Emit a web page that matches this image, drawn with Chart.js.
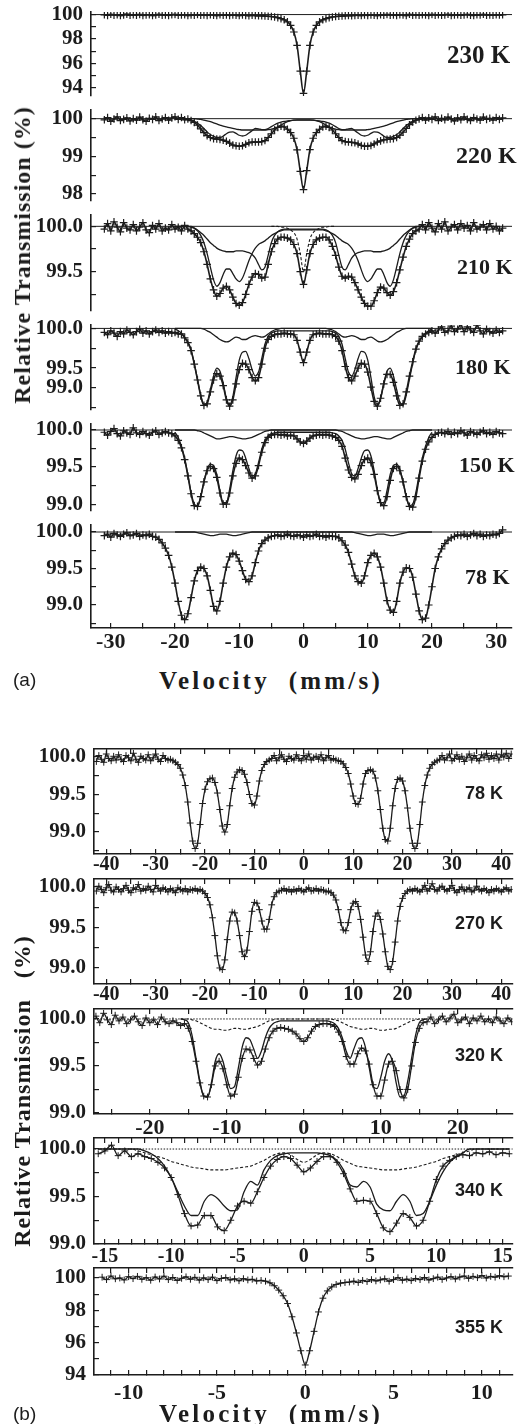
<!DOCTYPE html>
<html>
<head>
<meta charset="utf-8">
<script src="https://cdn.jsdelivr.net/npm/chart.js@4.4.0/dist/chart.umd.min.js"></script>
<style>
  html, body { margin: 0; padding: 0; background: #fff; }
  #fig { position: relative; width: 517px; height: 1424px; overflow: hidden; background: #fff; }
  .t { position: absolute; white-space: pre; color: #1c1c1c; line-height: 1; }
</style>
</head>
<body>
<div id="fig"></div>
<script>
// velocity axes (mm/s), evenly spaced channels
function steps(a, b, d) {
  const out = [];
  for (let k = 0; a + k * d <= b + 1e-9; k++) out.push(Math.round((a + k * d) * 100) / 100);
  return out;
}
const vA = steps(-31, 31, 0.5);      // panel (a) spectra
const vAc = steps(-20, 20, 0.5);     // panel (a) sub-spectra
const vS = steps(-5, 5, 0.5);        // 210 K central component
const vB1 = steps(-42, 42, 0.5);     // 78 K, 270 K (b)
const vB3 = steps(-27, 27, 0.5);     // 320 K
const vC3 = steps(-16, 16, 0.5);     // 320 K sub-spectra
const vB4 = steps(-15.5, 15.5, 0.5); // 340 K
const vB5 = steps(-11.5, 11.5, 0.25);// 355 K
const edgeA = [-34, 34], edge320 = [-28, 28], edge340 = [-16, 16];
const flat = [100, 100];

// ---- (a) relative transmission (%) ----
const t230 = [
99.98,99.93,100.02,99.95,99.99,99.92,99.97,100.03,99.94,99.98,
99.95,100.01,99.93,99.97,99.99,99.92,99.96,100.02,99.95,99.97,
99.93,99.98,100.01,99.94,99.96,99.99,99.92,99.97,99.95,100.0,
99.94,99.97,99.93,99.99,99.95,99.92,99.98,99.94,99.96,99.93,
99.97,99.94,99.92,99.96,99.93,99.91,99.94,99.92,99.9,99.91,
99.88,99.86,99.84,99.8,99.75,99.67,99.57,99.4,99.11,98.57,
97.48,95.36,93.55,95.36,97.48,98.57,99.11,99.4,99.57,99.67,
99.75,99.8,99.84,99.86,99.88,99.9,99.92,99.91,99.93,99.94,
99.92,99.96,99.93,99.97,99.95,99.92,99.98,99.94,100.01,99.95,
99.97,99.93,99.99,99.96,99.92,100.02,99.95,99.97,99.94,99.99,
99.96,99.93,100.01,99.95,99.98,99.94,99.97,100.02,99.93,99.96,
99.99,99.94,99.97,100.01,99.95,99.93,99.98,99.96,100.02,99.95,
99.97,99.94,99.99,99.96,99.98];
const t220 = [
99.97,100.03,99.93,99.99,100.05,99.95,99.98,100.02,99.94,100.0,
99.96,100.04,99.97,99.93,100.01,99.98,100.05,99.95,99.99,100.03,
99.96,100.02,100.05,99.98,100.03,99.97,99.99,99.95,99.9,99.83,
99.73,99.63,99.55,99.5,99.47,99.46,99.45,99.43,99.4,99.35,
99.3,99.28,99.27,99.28,99.32,99.36,99.38,99.38,99.38,99.39,
99.42,99.5,99.6,99.7,99.77,99.8,99.78,99.72,99.63,99.48,
99.17,98.6,98.12,98.62,99.18,99.48,99.63,99.72,99.78,99.8,
99.77,99.7,99.6,99.5,99.42,99.39,99.38,99.37,99.36,99.33,
99.29,99.27,99.27,99.29,99.33,99.38,99.41,99.44,99.45,99.46,
99.47,99.5,99.56,99.64,99.74,99.84,99.91,99.96,99.99,100.03,
99.96,100.02,99.98,100.05,99.95,100.01,99.97,100.04,99.99,99.94,
100.02,99.97,100.05,99.98,99.95,100.03,99.99,99.96,100.04,99.98,
100.01,99.96,100.03,99.98,100.02];
const t210 = [
99.97,100.03,99.95,100.05,99.99,99.94,100.04,99.98,99.96,100.02,
99.95,99.99,100.04,99.96,99.93,100.01,99.97,100.03,99.95,99.98,
99.96,100.02,99.97,99.99,99.95,100.01,99.97,99.95,99.92,99.88,
99.82,99.72,99.58,99.42,99.3,99.23,99.26,99.32,99.34,99.3,
99.22,99.15,99.13,99.16,99.25,99.36,99.44,99.48,99.47,99.43,
99.44,99.58,99.72,99.81,99.86,99.88,99.88,99.87,99.85,99.8,
99.7,99.5,99.36,99.52,99.7,99.8,99.85,99.87,99.88,99.88,
99.85,99.78,99.68,99.55,99.45,99.43,99.45,99.44,99.38,99.3,
99.22,99.15,99.12,99.12,99.18,99.27,99.33,99.32,99.27,99.24,
99.28,99.38,99.52,99.66,99.78,99.86,99.92,99.95,99.97,100.02,
99.96,100.04,99.98,99.94,100.03,99.97,100.05,99.95,99.99,100.02,
99.96,100.03,99.98,100.01,99.95,100.04,99.97,99.99,100.02,99.96,
100.03,99.97,100.0,99.95,99.98];
const t180 = [
99.95,99.92,99.97,99.94,99.9,99.96,99.93,99.98,99.95,99.92,
99.96,99.99,99.94,99.97,99.93,99.96,99.98,99.95,99.97,99.94,
99.96,99.94,99.95,99.93,99.93,99.88,99.82,99.72,99.55,99.35,
99.15,99.03,99.05,99.2,99.35,99.43,99.4,99.28,99.1,99.02,
99.1,99.3,99.48,99.56,99.55,99.48,99.38,99.34,99.38,99.55,
99.75,99.86,99.9,99.92,99.93,99.93,99.94,99.93,99.93,99.92,
99.85,99.7,99.57,99.7,99.85,99.92,99.93,99.94,99.93,99.93,
99.93,99.92,99.9,99.84,99.72,99.52,99.38,99.34,99.4,99.5,
99.56,99.55,99.45,99.26,99.08,99.02,99.12,99.3,99.42,99.42,
99.32,99.15,99.03,99.05,99.2,99.4,99.58,99.74,99.84,99.9,
99.93,99.95,99.97,99.94,99.98,100.02,99.95,99.97,100.03,99.96,
99.99,100.05,99.96,100.02,99.98,99.95,100.04,99.97,99.93,99.99,
99.96,99.94,99.98,99.95,99.97];
const t150 = [
99.97,99.93,99.98,100.02,99.95,99.92,99.99,99.96,99.94,100.03,
99.96,99.94,99.98,99.95,99.93,99.97,99.99,99.94,99.96,99.98,
99.96,99.95,99.92,99.86,99.76,99.6,99.38,99.14,98.98,98.97,
99.1,99.3,99.45,99.51,99.48,99.36,99.15,99.0,99.0,99.15,
99.38,99.55,99.62,99.6,99.52,99.42,99.35,99.38,99.52,99.7,
99.83,99.9,99.93,99.94,99.94,99.93,99.94,99.92,99.93,99.92,
99.88,99.84,99.82,99.85,99.89,99.92,99.93,99.94,99.93,99.94,
99.93,99.92,99.9,99.86,99.78,99.62,99.46,99.36,99.34,99.4,
99.52,99.6,99.62,99.56,99.4,99.18,99.02,98.98,99.1,99.32,
99.48,99.51,99.45,99.3,99.1,98.97,98.96,99.1,99.35,99.58,
99.74,99.84,99.9,99.94,99.96,99.97,99.95,99.98,99.94,99.97,
99.95,99.99,99.96,99.93,99.98,99.96,99.94,99.97,99.99,99.95,
99.97,99.94,99.98,99.96,99.95];
const t78a = [
99.95,99.97,99.93,99.98,99.96,99.94,99.97,99.99,99.95,99.96,
99.98,99.94,99.96,99.95,99.97,99.94,99.93,99.9,99.85,99.78,
99.68,99.52,99.3,99.05,98.86,98.8,98.88,99.1,99.33,99.47,
99.52,99.5,99.4,99.2,98.98,98.92,99.05,99.3,99.52,99.66,
99.71,99.69,99.6,99.47,99.35,99.32,99.4,99.58,99.74,99.84,
99.89,99.92,99.94,99.95,99.96,99.94,99.95,99.97,99.95,99.94,
99.96,99.95,99.93,99.96,99.94,99.95,99.97,99.94,99.95,99.93,
99.95,99.94,99.94,99.92,99.88,99.82,99.72,99.56,99.4,99.32,
99.3,99.4,99.58,99.68,99.71,99.66,99.52,99.3,99.06,98.93,
98.9,99.05,99.3,99.45,99.51,99.5,99.38,99.15,98.92,98.8,
98.82,99.0,99.25,99.5,99.66,99.77,99.84,99.89,99.92,99.94,
99.96,99.95,99.97,99.94,99.96,99.98,99.95,99.97,99.94,99.96,
99.95,99.97,99.96,99.98,100.03];

// sub-spectra (a)
const c220a = [
100,100,100,99.99,99.98,99.96,99.93,99.88,99.82,99.74,
99.65,99.58,99.53,99.5,99.5,99.54,99.6,99.64,99.65,99.61,
99.56,99.54,99.56,99.62,99.68,99.74,99.73,99.71,99.71,99.74,
99.79,99.84,99.88,99.91,99.93,99.94,99.95,99.96,99.96,99.96,
99.96,99.96,99.96,99.96,99.95,99.94,99.93,99.91,99.88,99.84,
99.79,99.74,99.71,99.71,99.73,99.74,99.68,99.62,99.56,99.54,
99.56,99.61,99.65,99.64,99.6,99.54,99.5,99.5,99.53,99.58,
99.65,99.74,99.82,99.88,99.93,99.96,99.98,99.99,100,100,
100];
const c220b = [
100,100,100,100,100,100,100,99.99,99.98,99.96,
99.94,99.92,99.89,99.86,99.83,99.8,99.78,99.76,99.74,99.72,
99.71,99.7,99.7,99.7,99.7,99.7,99.7,99.7,99.7,99.71,
99.72,99.74,99.78,99.83,99.88,99.92,99.95,99.96,99.97,99.97,
99.97,99.97,99.97,99.96,99.95,99.92,99.88,99.83,99.78,99.74,
99.72,99.71,99.7,99.7,99.7,99.7,99.7,99.7,99.7,99.7,
99.71,99.72,99.74,99.76,99.78,99.8,99.83,99.86,99.89,99.92,
99.94,99.96,99.98,99.99,100,100,100,100,100,100,
100];
const c210a = [
100,100,100,100,100,100,99.98,99.95,99.9,99.82,
99.7,99.55,99.41,99.34,99.38,99.47,99.53,99.53,99.48,99.42,
99.39,99.43,99.52,99.62,99.7,99.76,99.8,99.82,99.84,99.87,
99.9,99.92,99.94,99.95,99.96,99.96,99.96,99.96,99.96,99.96,
99.96,99.96,99.96,99.96,99.96,99.96,99.96,99.95,99.94,99.92,
99.9,99.87,99.84,99.82,99.8,99.76,99.7,99.62,99.52,99.43,
99.39,99.42,99.48,99.53,99.53,99.47,99.38,99.34,99.41,99.55,
99.7,99.82,99.9,99.95,99.98,100,100,100,100,100,
100];
const c210b = [
100,100,100,100,100,99.99,99.98,99.96,99.93,99.9,
99.86,99.82,99.79,99.76,99.74,99.73,99.72,99.72,99.72,99.73,
99.73,99.73,99.72,99.71,99.69,99.65,99.58,99.52,99.55,99.68,
99.82,99.9,99.94,99.96,99.97,99.97,99.97,99.97,99.97,99.97,
99.97,99.97,99.97,99.97,99.97,99.97,99.97,99.96,99.94,99.9,
99.82,99.68,99.55,99.52,99.58,99.65,99.69,99.71,99.72,99.73,
99.73,99.73,99.72,99.72,99.72,99.73,99.74,99.76,99.79,99.82,
99.86,99.9,99.93,99.96,99.98,99.99,100,100,100,100,
100];
const c210c = [100,100,100,99.99,99.99,99.98,99.96,99.93,99.86,99.7,99.5,
99.7,99.86,99.93,99.96,99.98,99.99,99.99,100,100,100];
const c180a = [
99.99,99.97,99.94,99.89,99.83,99.73,99.56,99.36,99.16,99.04,
99.07,99.23,99.4,99.5,99.46,99.31,99.12,99.04,99.14,99.38,
99.6,99.7,99.71,99.62,99.48,99.4,99.45,99.62,99.8,99.9,
99.94,99.96,99.97,99.97,99.97,99.97,99.97,99.97,99.97,99.97,
99.97,99.97,99.97,99.97,99.97,99.97,99.97,99.97,99.97,99.96,
99.94,99.9,99.8,99.62,99.45,99.4,99.48,99.62,99.71,99.7,
99.6,99.38,99.14,99.04,99.12,99.31,99.46,99.5,99.4,99.23,
99.07,99.04,99.16,99.36,99.56,99.73,99.83,99.89,99.94,99.97,
99.99];
const c180b = [
100,100,100,100,100,100,100,100,100,99.99,
99.97,99.95,99.92,99.89,99.86,99.84,99.83,99.84,99.87,99.89,
99.88,99.86,99.86,99.88,99.9,99.91,99.9,99.89,99.9,99.93,
99.96,99.98,99.99,100,100,100,100,100,100,100,
100,100,100,100,100,100,100,100,99.99,99.98,
99.96,99.93,99.9,99.89,99.9,99.91,99.9,99.88,99.86,99.86,
99.88,99.89,99.87,99.84,99.83,99.84,99.86,99.89,99.92,99.95,
99.97,99.99,100,100,100,100,100,100,100,100,
100];
const c150a = [
99.97,99.9,99.78,99.62,99.4,99.16,99.0,98.98,99.1,99.3,
99.47,99.54,99.52,99.4,99.18,99.02,99.02,99.2,99.45,99.65,
99.73,99.72,99.62,99.48,99.38,99.41,99.56,99.74,99.86,99.92,
99.95,99.96,99.97,99.97,99.97,99.97,99.97,99.97,99.97,99.97,
99.97,99.97,99.97,99.97,99.97,99.97,99.97,99.97,99.97,99.96,
99.95,99.92,99.86,99.74,99.56,99.41,99.38,99.48,99.62,99.72,
99.73,99.65,99.45,99.2,99.02,99.02,99.18,99.4,99.52,99.54,
99.47,99.3,99.1,98.98,99.0,99.16,99.4,99.62,99.78,99.9,
99.97];
const c150b = [
100,100,100,100,100,100,100,99.99,99.98,99.96,
99.94,99.92,99.9,99.88,99.88,99.89,99.9,99.91,99.91,99.9,
99.89,99.88,99.88,99.89,99.9,99.92,99.94,99.96,99.98,99.99,
100,100,100,100,100,100,100,100,100,100,
100,100,100,100,100,100,100,100,100,100,
100,99.99,99.98,99.96,99.94,99.92,99.9,99.89,99.88,99.88,
99.89,99.9,99.91,99.91,99.9,99.89,99.88,99.88,99.9,99.92,
99.94,99.96,99.98,99.99,100,100,100,100,100,100,
100];
const c78a = [
100,100,100,100,100,100,100,99.99,99.98,99.97,
99.96,99.95,99.95,99.96,99.97,99.97,99.97,99.96,99.95,99.95,
99.96,99.97,99.98,99.99,100,100,100,100,100,100,
100,100,100,100,100,100,100,100,100,100,
100,100,100,100,100,100,100,100,100,100,
100,100,100,100,100,100,99.99,99.98,99.97,99.96,
99.95,99.95,99.96,99.97,99.97,99.97,99.96,99.95,99.95,99.96,
99.97,99.98,99.99,100,100,100,100,100,100,100,
100];

// ---- (b) relative transmission (%) ----
const t78b = [
99.94,100.02,99.97,99.93,100.04,99.98,99.95,100.01,99.96,100.03,
99.97,99.94,100.02,99.99,99.95,100.05,99.97,99.93,100.01,99.98,
99.96,100.03,99.95,99.99,100.04,99.97,99.94,100.02,99.98,99.96,
99.97,99.95,99.93,99.9,99.85,99.76,99.62,99.4,99.12,98.88,
98.78,98.85,99.1,99.38,99.57,99.67,99.71,99.72,99.66,99.52,
99.3,99.08,99.0,99.1,99.35,99.58,99.73,99.8,99.83,99.82,
99.77,99.66,99.5,99.38,99.36,99.48,99.68,99.82,99.9,99.94,
99.96,99.98,100.02,99.95,99.99,100.03,99.97,99.94,100.01,99.98,
99.96,100.03,99.98,99.95,100.02,99.97,100.04,99.96,99.99,100.01,
99.97,100.03,99.95,99.99,100.02,99.96,99.98,99.96,99.95,99.94,
99.91,99.86,99.78,99.64,99.48,99.38,99.37,99.45,99.64,99.78,
99.82,99.83,99.81,99.72,99.55,99.3,99.05,98.9,98.88,99.05,
99.35,99.58,99.7,99.72,99.68,99.55,99.32,99.05,98.85,98.78,
98.85,99.1,99.4,99.62,99.76,99.85,99.9,99.93,99.95,99.97,
100.02,99.96,99.99,100.04,99.95,99.98,100.03,99.97,100.01,99.94,
99.99,100.04,99.96,100.02,99.98,99.95,100.03,99.99,100.05,99.97,
100.02,99.98,100.04,99.96,100.03,100.0,100.05,99.98,100.04];
const t270 = [
99.95,100.01,99.97,99.93,99.99,100.03,99.96,99.94,100.0,99.97,
99.94,99.98,100.02,99.96,99.93,99.99,99.97,100.03,99.95,99.98,
99.96,100.01,99.97,99.94,100.02,99.98,99.95,99.99,99.97,99.94,
99.98,99.96,99.93,99.99,99.97,99.95,99.98,99.94,99.97,99.96,
99.98,99.95,99.97,99.95,99.92,99.87,99.78,99.62,99.4,99.15,
99.0,98.98,99.1,99.35,99.58,99.69,99.68,99.58,99.4,99.2,
99.14,99.22,99.45,99.7,99.81,99.8,99.72,99.58,99.48,99.48,
99.6,99.78,99.88,99.93,99.95,99.96,99.98,99.95,99.97,99.94,
99.97,99.95,99.98,99.96,99.94,99.97,99.99,99.95,99.96,99.98,
99.95,99.97,99.96,99.94,99.95,99.93,99.9,99.84,99.72,99.56,
99.47,99.46,99.56,99.72,99.8,99.82,99.76,99.6,99.38,99.16,
99.08,99.2,99.45,99.64,99.68,99.6,99.42,99.2,99.02,98.98,
99.08,99.32,99.58,99.76,99.86,99.92,99.95,99.97,99.95,99.98,
99.96,99.94,99.97,100.02,99.95,99.98,100.04,99.97,99.95,99.99,
100.01,99.97,99.95,99.98,100.02,99.96,99.93,99.97,100.0,99.95,
99.97,99.99,99.94,99.96,100.01,99.97,99.95,99.98,99.96,99.93,
99.97,99.95,99.98,99.96,99.94,99.97,99.99,99.95,99.97];
const t320 = [
100.03,99.96,100.06,99.99,99.94,100.04,99.98,100.02,99.95,99.99,
100.03,99.97,99.93,100.01,99.96,99.99,99.94,100.02,99.97,99.95,
99.98,99.96,99.93,99.95,99.9,99.76,99.55,99.32,99.18,99.17,
99.3,99.5,99.55,99.47,99.3,99.18,99.2,99.38,99.58,99.68,
99.67,99.58,99.51,99.55,99.68,99.8,99.87,99.9,99.91,99.9,
99.89,99.87,99.84,99.79,99.76,99.8,99.87,99.92,99.94,99.95,
99.95,99.94,99.92,99.86,99.76,99.6,99.52,99.52,99.63,99.69,
99.66,99.52,99.3,99.18,99.18,99.35,99.52,99.55,99.45,99.25,
99.16,99.25,99.5,99.75,99.9,99.96,99.97,100.02,99.95,99.99,
100.03,99.97,100.01,100.05,99.96,99.99,100.02,99.95,100.01,99.98,
100.03,99.97,100.0,99.96,100.02,99.98,99.95,100.01,99.97];
const c320a = [
100,99.99,99.96,99.82,99.58,99.34,99.18,99.17,99.32,99.55,
99.63,99.55,99.38,99.26,99.28,99.48,99.7,99.8,99.78,99.68,
99.58,99.66,99.8,99.9,99.95,99.97,99.98,99.98,99.98,99.98,
99.98,99.98,99.98,99.98,99.98,99.98,99.98,99.98,99.98,99.97,
99.95,99.9,99.8,99.66,99.58,99.68,99.78,99.8,99.7,99.48,
99.28,99.26,99.38,99.55,99.63,99.55,99.32,99.17,99.18,99.34,
99.58,99.82,99.96,99.99,100];
const c320b = [
100,100,100,99.99,99.98,99.96,99.94,99.92,99.9,99.89,
99.89,99.88,99.88,99.89,99.9,99.9,99.89,99.89,99.9,99.91,
99.92,99.94,99.96,99.98,99.99,100,100,100,100,100,
100,100,100,100,100,100,100,100,100,100,
99.99,99.98,99.96,99.94,99.92,99.91,99.9,99.89,99.89,99.9,
99.9,99.89,99.88,99.88,99.89,99.89,99.9,99.92,99.94,99.96,
99.98,99.99,100,100,100];
const t340 = [
99.95,99.98,100.04,99.93,99.98,99.92,99.95,99.92,99.9,99.86,
99.8,99.7,99.52,99.32,99.19,99.2,99.3,99.3,99.18,99.14,
99.25,99.4,99.45,99.43,99.55,99.7,99.82,99.89,99.92,99.9,
99.83,99.76,99.8,99.87,99.92,99.92,99.86,99.74,99.58,99.45,
99.46,99.45,99.32,99.17,99.13,99.22,99.32,99.28,99.19,99.25,
99.45,99.68,99.82,99.88,99.92,99.94,99.93,99.96,99.95,99.97,
99.94,99.96,99.95];
const c340a = [
100,100,100,100,100,100,100,99.98,99.95,99.9,
99.82,99.7,99.55,99.4,99.3,99.3,99.45,99.52,99.48,99.4,
99.35,99.36,99.55,99.66,99.62,99.78,99.88,99.93,99.95,99.96,
99.96,99.96,99.96,99.96,99.95,99.93,99.88,99.78,99.62,99.6,
99.66,99.6,99.42,99.36,99.35,99.45,99.52,99.45,99.3,99.32,
99.45,99.62,99.76,99.86,99.92,99.96,100,100,100,100,
100,100,100];
const c340b = [
100,100,100,100,100,100,99.98,99.96,99.94,99.92,
99.9,99.87,99.85,99.83,99.81,99.8,99.79,99.78,99.78,99.78,
99.79,99.8,99.81,99.82,99.85,99.88,99.92,99.95,99.96,99.94,
99.89,99.86,99.89,99.94,99.96,99.95,99.92,99.88,99.85,99.82,
99.81,99.8,99.79,99.78,99.78,99.78,99.79,99.8,99.81,99.83,
99.85,99.87,99.9,99.92,99.94,99.96,99.98,100,100,100,
100,100,100];
const t355 = [
100.05,99.9,100.12,99.95,100.0,99.88,100.08,99.96,
100.1,99.92,100.02,99.86,100.06,99.94,100.11,99.9,
100.03,99.85,99.98,100.07,99.92,100.04,99.87,100.01,
99.9,100.05,99.84,99.97,100.02,99.88,99.95,99.83,
99.96,99.88,99.92,99.82,99.85,99.8,99.7,99.52,
99.25,98.9,98.42,97.6,96.6,95.5,94.62,95.5,
96.7,97.9,98.75,99.2,99.45,99.6,99.68,99.72,
99.75,99.8,99.72,99.85,99.78,99.9,99.82,99.88,
99.95,99.8,99.9,100.02,99.86,99.93,99.84,99.97,
99.9,100.03,99.88,99.96,100.05,99.91,100.0,100.08,
99.94,100.06,100.12,99.98,100.1,100.02,100.15,100.0,
100.1,100.05,100.14,100.08,100.12];

// ---- tick values and labels ----
const ticks230 = [100, 99, 98, 97, 96, 95, 94];
const labels230 = ['100', '', '98', '', '96', '', '94'];
const ticks220 = [100, 99.5, 99, 98.5, 98];
const labels220 = ['100', '', '99', '', '98'];
const ticks210 = [100, 99.75, 99.5, 99.25];
const labels210 = ['100.0', '', '99.5', ''];
const ticksQ5 = [100, 99.75, 99.5, 99.25, 99.0];
const labels180 = ['100.0', '', '99.5', '99.0', ''];
const labelsQ5 = ['100.0', '', '99.5', '', '99.0'];
const ticksQ6 = [100, 99.75, 99.5, 99.25, 99.0, 98.75];
const labelsQ6 = ['100.0', '', '99.5', '', '99.0', ''];
const xTicksA = steps(-30, 30, 5), xLabelsA = [-30, -20, -10, 0, 10, 20, 30];
const xTicks42 = steps(-40, 40, 5), xLabels42 = [-40, -30, -20, -10, 0, 10, 20, 30, 40];
const xTicks27 = steps(-25, 25, 5), xLabels27 = [-20, -10, 0, 10, 20];
const xTicks15 = steps(-15, 15, 1), xLabels15 = [-15, -10, -5, 0, 5, 10, 15];
const xTicks11 = steps(-11, 11, 1), xLabels11 = [-10, -5, 0, 5, 10];

const SERIF = '"Liberation Serif", "Times New Roman", serif';
const SANS = '"Liberation Sans", Arial, sans-serif';
const INK = '#1c1c1c';
const fig = document.getElementById('fig');

const xa = [-33.08, 32.46];
const panels = [
  { top: 12, bottom: 110, left: 91, x: xa, y: [93.33, 100.21], yt: ticks230, yl: labels230,
    series: [['data', vA, t230], ['flat', edgeA, flat]] },
  { top: 110, bottom: 215, left: 91, x: xa, y: [97.816, 100.23], yt: ticks220, yl: labels220,
    series: [['data', vA, t220], ['solid', vAc, c220a], ['solid', vAc, c220b], ['flat', edgeA, flat]] },
  { top: 215, bottom: 325, left: 91, x: xa, y: [99.067, 100.125], yt: ticks210, yl: labels210,
    series: [['data', vA, t210], ['solid', vAc, c210a], ['solid', vAc, c210b], ['dash', vS, c210c], ['flat', edgeA, flat]] },
  { top: 325, bottom: 424, left: 91, x: xa, y: [98.972, 100.043], yt: ticksQ5, yl: labels180,
    series: [['data', vA, t180], ['solid', vAc, c180a], ['solid', vAc, c180b], ['flat', edgeA, flat]] },
  { top: 424, bottom: 525, left: 91, x: xa, y: [98.907, 100.081], yt: ticksQ5, yl: labelsQ5,
    series: [['data', vA, t150], ['solid', vAc, c150a], ['solid', vAc, c150b], ['flat', edgeA, flat]] },
  { top: 525, bottom: 628, left: 91, x: xa, y: [98.685, 100.096], yt: ticksQ6, yl: labelsQ6,
    xt: xTicksA, xl: xLabelsA, xFont: 22, xPad: 6,
    series: [['data', vA, t78a], ['solid', vAc, c78a], ['flat', edgeA, flat]] },

  { top: 749, bottom: 854, left: 94, x: [-42.48, 42.28], y: [98.707, 100.107], yt: ticksQ6, yl: labelsQ6,
    xt: xTicks42, xl: xLabels42, xFont: 20, xPad: 4, box: true, small: true,
    series: [['data', vB1, t78b]] },
  { top: 879, bottom: 984, left: 94, x: [-42.48, 42.28], y: [98.802, 100.099], yt: ticksQ5, yl: labelsQ5,
    xt: xTicks42, xl: xLabels42, xFont: 20, xPad: 4, box: true, small: true,
    series: [['data', vB1, t270]] },
  { top: 1009, bottom: 1114, left: 94, x: [-27.25, 27.12], y: [98.989, 100.106], yt: ticksQ5, yl: labelsQ5,
    xt: xTicks27, xl: xLabels27, xFont: 22, xPad: 6, box: true, small: true,
    series: [['data', vB3, t320], ['solid', vC3, c320a], ['dash', vC3, c320b], ['dot', edge320, flat]] },
  { top: 1138, bottom: 1244, left: 94, x: [-15.82, 15.75], y: [99.0, 100.116], yt: ticksQ5, yl: labelsQ5,
    xt: xTicks15, xl: xLabels15, xFont: 20, xPad: 6, box: true, small: true,
    series: [['data', vB4, t340], ['solid', vB4, c340a], ['dash', vB4, c340b], ['dot', edge340, flat]] },
  { top: 1268, bottom: 1375, left: 94, x: [-11.96, 11.74], y: [94.0, 100.618], yt: ticks230, yl: labels230,
    xt: xTicks11, xl: xLabels11, xFont: 22, xPad: 10, box: true, small: true,
    series: [['data', vB5, t355]] }
];

function makeDataset(kind, v, t, small) {
  if (v.length !== t.length) throw new Error('length mismatch ' + v.length + ' vs ' + t.length);
  const ds = {
    data: v.map((x, i) => ({ x, y: t[i] })),
    borderColor: INK, backgroundColor: INK, pointBorderColor: INK, pointBackgroundColor: INK,
    cubicInterpolationMode: 'monotone', pointRadius: 0, pointHoverRadius: 0, borderWidth: 1.3, fill: false
  };
  if (kind === 'data') Object.assign(ds, { borderWidth: small ? 1.3 : 1.6, pointStyle: 'cross',
    pointRadius: small ? 3.4 : 3.8, pointBorderWidth: small ? 1 : 1.2 });
  if (kind === 'dash') Object.assign(ds, { borderWidth: 1.1, borderDash: [3, 2] });
  if (kind === 'flat') Object.assign(ds, { borderWidth: 1, cubicInterpolationMode: 'default', tension: 0 });
  if (kind === 'dot') Object.assign(ds, { borderWidth: 1, borderDash: [1.5, 1.5], cubicInterpolationMode: 'default', tension: 0 });
  return ds;
}

panels.forEach(p => {
  const padTop = 14, padBot = p.xt ? 30 : 14;
  const h = p.bottom - p.top + padTop + padBot;
  const cv = document.createElement('canvas');
  cv.width = 517; cv.height = h;
  cv.style.cssText = 'position:absolute;left:0;top:' + (p.top - padTop) + 'px;width:517px;height:' + h + 'px';
  fig.appendChild(cv);

  const tickGrid = { drawOnChartArea: false, drawTicks: true, tickLength: -5, color: INK, lineWidth: 1.2 };
  const border = { display: true, color: INK, width: 1.6 };
  const scales = {
    x: {
      type: 'linear', position: 'bottom', min: p.x[0], max: p.x[1], display: !!p.xt,
      afterBuildTicks: s => { s.ticks = (p.xt || []).map(value => ({ value })); },
      ticks: { autoSkip: false, maxRotation: 0, minRotation: 0, padding: p.xPad || 6, color: INK,
        font: { family: SERIF, weight: 'bold', size: p.xFont || 22 },
        callback: v => ((p.xl || []).includes(v) ? String(v) : '') },
      grid: tickGrid, border,
      afterFit: s => { s.height = padBot; s.paddingLeft = 0; s.paddingRight = 0; }
    },
    y: {
      type: 'linear', position: 'left', min: p.y[0], max: p.y[1],
      afterBuildTicks: s => { s.ticks = p.yt.map(value => ({ value })); },
      ticks: { autoSkip: false, padding: 13, color: INK,
        font: { family: SERIF, weight: 'bold', size: 21 },
        callback: (v, i) => p.yl[i] },
      grid: tickGrid, border,
      afterFit: s => { s.width = p.left; s.paddingTop = 0; s.paddingBottom = 0; }
    }
  };
  if (p.box) {
    scales.x2 = {
      type: 'linear', position: 'top', min: p.x[0], max: p.x[1],
      afterBuildTicks: s => { s.ticks = p.xt.map(value => ({ value })); },
      ticks: { display: false }, grid: tickGrid, border,
      afterFit: s => { s.height = 0; s.paddingLeft = 0; s.paddingRight = 0; }
    };
  }

  new Chart(cv, {
    type: 'line',
    data: { datasets: p.series.map(s => makeDataset(s[0], s[1], s[2], p.small)) },
    options: {
      responsive: false, animation: false, devicePixelRatio: 1, events: [],
      layout: { padding: { top: padTop, bottom: p.xt ? 0 : padBot, left: 0, right: 0 } },
      plugins: { legend: { display: false }, tooltip: { enabled: false } },
      scales
    }
  });
});

// ---- text ----
function addText(str, css) {
  const d = document.createElement('div');
  d.className = 't';
  d.textContent = str;
  Object.assign(d.style, css);
  fig.appendChild(d);
}
const serifB = (size) => ({ fontFamily: SERIF, fontWeight: 'bold', fontSize: size + 'px' });
const sansB = (size) => ({ fontFamily: SANS, fontWeight: 'bold', fontSize: size + 'px' });

const tempsA = [['230 K', 447, 54, 25], ['220 K', 456, 155, 24], ['210 K', 457, 267, 22],
                ['180 K', 455, 367, 22], ['150 K', 459, 465, 22], ['78 K', 465, 577, 22]];
tempsA.forEach(([s, x, cy, fs]) => addText(s, Object.assign(serifB(fs),
  { left: x + 'px', top: (cy - fs / 2) + 'px' })));

const tempsB = [['78 K', 793], ['270 K', 923], ['320 K', 1055], ['340 K', 1190], ['355 K', 1327]];
tempsB.forEach(([s, cy]) => addText(s, Object.assign(sansB(18),
  { right: (517 - 503) + 'px', top: (cy - 9) + 'px' })));

addText('Relative Transmission (%)', Object.assign(serifB(24), {
  left: '22px', top: '255px', letterSpacing: '1px',
  transform: 'translate(-50%, -50%) rotate(-90deg)' }));
addText('Relative Transmission   (%)', Object.assign(serifB(24), {
  left: '22px', top: '1091px', letterSpacing: '1px',
  transform: 'translate(-50%, -50%) rotate(-90deg)' }));

addText('Velocity  (mm/s)', Object.assign(serifB(25), {
  left: '271px', top: '680px', letterSpacing: '3.2px', transform: 'translate(-50%, -50%)' }));
addText('Velocity  (mm/s)', Object.assign(serifB(25), {
  left: '271px', top: '1413px', letterSpacing: '3.2px', transform: 'translate(-50%, -50%)' }));

addText('(a)', { fontFamily: SANS, fontSize: '19px', left: '13px', top: '670px' });
addText('(b)', { fontFamily: SANS, fontSize: '19px', left: '13px', top: '1404px' });
</script>
</body>
</html>
